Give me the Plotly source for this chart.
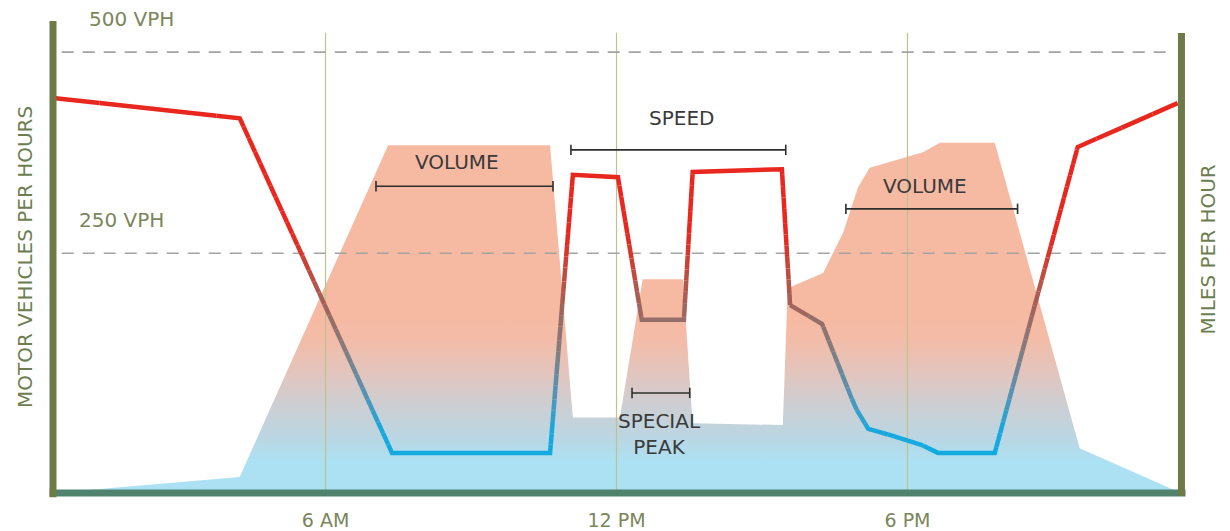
import math
import plotly.graph_objects as go
from plotly.colors import sample_colorscale

# ------------------------------------------------------------------
# Data (x in hours of the day, y on a relative 0-100 level scale)
# ------------------------------------------------------------------
X_RANGE = [0.38, 23.64]
TICK_VALS = [6, 12, 18]
TICK_TEXT = ["6 AM", "12 PM", "6 PM"]

VOLUME_HOURS = [0.38, 4.23, 7.29, 10.63, 11.10, 12.07, 12.54, 13.37, 13.57,
                15.43, 15.53, 16.26, 16.67, 16.98, 17.22, 18.32, 18.67, 19.80,
                21.55, 23.64]
VOLUME_LEVEL = [0.0, 3.4, 73.7, 73.7, 16.0, 16.0, 45.3, 45.3, 14.8,
                14.4, 43.4, 46.6, 55.1, 64.8, 68.9, 72.2, 74.2, 74.2,
                9.5, 0.0]

SPEED_HOURS = [0.38, 4.23, 7.37, 10.63, 11.10, 12.03, 12.52, 13.39, 13.57,
               15.41, 15.58, 16.24, 16.92, 17.19, 18.21, 18.63, 19.80, 21.51,
               23.57]
SPEED_LEVEL = [83.7, 79.4, 8.5, 8.5, 67.4, 66.9, 36.7, 36.7, 68.0,
               68.6, 39.8, 35.8, 18.2, 13.6, 10.6, 8.5, 8.5, 73.3,
               82.6]

REF_LABELS = ["500 VPH", "250 VPH"]
REF_LEVELS = [93.4, 50.8]

BRACKET_LABELS = ["VOLUME", "SPEED", "VOLUME", "SPECIAL<br>PEAK"]
BRACKET_START = [7.04, 11.06, 16.73, 12.32]
BRACKET_END = [10.69, 15.49, 20.27, 13.51]
BRACKET_LEVEL = [65.0, 72.7, 60.2, 21.2]

# ------------------------------------------------------------------
# Styles
# ------------------------------------------------------------------
FONT = "DejaVu Sans"
OLIVE = "#6E7A47"
TEAL = "#4F836E"
LABEL_OLIVE = "#7B865A"
TITLE_GREEN = "#6C7E50"
DARK = "#3A3A3A"
GRID = "#BFC28F"

VOLUME_COLORSCALE = [
    [0.0, "#ACE1F3"], [0.17, "#ACE1F3"], [0.28, "#B9D7E4"],
    [0.49, "#D0CDD0"], [0.65, "#E4C4BC"], [0.81, "#F3BCA8"],
    [0.92, "#F6BAA3"], [1.0, "#F6BAA3"],
]
SPEED_COLORSCALE = [
    [0.0, "#14AAE0"], [0.13, "#14AAE0"], [0.20, "#5096BA"],
    [0.30, "#827D80"], [0.37, "#986C66"], [0.45, "#B85246"],
    [0.55, "#E8271E"], [1.0, "#E8271E"],
]

fig = go.Figure()

# volume area with vertical gradient
fig.add_trace(go.Scatter(
    x=VOLUME_HOURS, y=VOLUME_LEVEL, mode="lines", line=dict(width=0),
    fill="tozeroy",
    fillgradient=dict(type="vertical", start=0, stop=40,
                      colorscale=VOLUME_COLORSCALE),
    hoverinfo="skip", showlegend=False))

# vertical grid lines at the ticks
for tv in TICK_VALS:
    fig.add_trace(go.Scatter(x=[tv, tv], y=[0, 97.5], mode="lines",
                             line=dict(color=GRID, width=1.2),
                             hoverinfo="skip", showlegend=False))

# dashed reference levels
for lvl in REF_LEVELS:
    fig.add_trace(go.Scatter(x=[0.56, 23.33], y=[lvl, lvl], mode="lines",
                             line=dict(color="#A3A3A3", width=1.6,
                                       dash="12px,9px"),
                             hoverinfo="skip", showlegend=False))

# speed line, coloured by its level (rendered as colour-binned runs)
N_BINS = 40
pts_x, pts_y = [SPEED_HOURS[0]], [SPEED_LEVEL[0]]
for i in range(len(SPEED_HOURS) - 1):
    x0, x1 = SPEED_HOURS[i], SPEED_HOURS[i + 1]
    y0, y1 = SPEED_LEVEL[i], SPEED_LEVEL[i + 1]
    n = max(1, int(math.ceil(abs(y1 - y0) / 0.6)))
    for k in range(1, n + 1):
        t = k / n
        pts_x.append(x0 + (x1 - x0) * t)
        pts_y.append(y0 + (y1 - y0) * t)


def bin_of(v):
    return min(N_BINS - 1, max(0, int(v / 100 * N_BINS)))


runs = {b: ([], []) for b in range(N_BINS)}
cur_bin = None
run_x, run_y = [], []
for j in range(len(pts_x) - 1):
    b = bin_of((pts_y[j] + pts_y[j + 1]) / 2)
    if b != cur_bin:
        if cur_bin is not None:
            rx, ry = runs[cur_bin]
            rx.extend(run_x + [None])
            ry.extend(run_y + [None])
        cur_bin = b
        run_x, run_y = [pts_x[j]], [pts_y[j]]
    run_x.append(pts_x[j + 1])
    run_y.append(pts_y[j + 1])
rx, ry = runs[cur_bin]
rx.extend(run_x)
ry.extend(run_y)

for b in range(N_BINS):
    rx, ry = runs[b]
    if not rx:
        continue
    col = sample_colorscale(SPEED_COLORSCALE, [(b + 0.5) / N_BINS])[0]
    fig.add_trace(go.Scatter(x=rx, y=ry, mode="lines",
                             line=dict(color=col, width=4.5),
                             connectgaps=False, hoverinfo="skip",
                             showlegend=False))

# brackets
TICK_H = 1.1
for x0, x1, lvl in zip(BRACKET_START, BRACKET_END, BRACKET_LEVEL):
    fig.add_trace(go.Scatter(
        x=[x0, x0, None, x0, x1, None, x1, x1],
        y=[lvl - TICK_H, lvl + TICK_H, None, lvl, lvl, None,
           lvl - TICK_H, lvl + TICK_H],
        mode="lines", line=dict(color="#2E2E2E", width=1.6),
        hoverinfo="skip", showlegend=False))

annotations = []
# bracket labels
label_pos = [(8.71, 70.1), (13.33, 79.4), (18.36, 65.0), (12.89, 12.5)]
for text, (lx, ly) in zip(BRACKET_LABELS, label_pos):
    annotations.append(dict(x=lx, y=ly, xref="x", yref="y", text=text,
                            showarrow=False, xanchor="center",
                            yanchor="middle",
                            font=dict(family=FONT, size=20, color=DARK)))

# reference-level labels
for text, lvl, px in zip(REF_LABELS, REF_LEVELS, [0.030, 0.021]):
    annotations.append(dict(x=px, y=lvl, xref="paper", yref="y", text=text,
                            showarrow=False, xanchor="left",
                            yanchor="middle", yshift=33,
                            font=dict(family=FONT, size=20,
                                      color=LABEL_OLIVE)))

# axis titles
annotations.append(dict(x=-0.0248, y=0.5, xref="paper", yref="paper",
                        text="MOTOR VEHICLES PER HOURS", textangle=-90,
                        showarrow=False, xanchor="center", yanchor="middle",
                        font=dict(family=FONT, size=20, color=TITLE_GREEN)))
annotations.append(dict(x=1.024, y=0.516, xref="paper", yref="paper",
                        text="MILES PER HOUR", textangle=-90,
                        showarrow=False, xanchor="center", yanchor="middle",
                        font=dict(family=FONT, size=20, color=TITLE_GREEN)))

shapes = [
    dict(type="line", xref="paper", yref="paper", x0=-0.003, x1=1.004,
         y0=0, y1=0, line=dict(color=TEAL, width=7), layer="above"),
    dict(type="line", xref="paper", yref="paper", x0=0, x1=0,
         y0=-0.009, y1=1.0, line=dict(color=OLIVE, width=7), layer="above"),
    dict(type="line", xref="paper", yref="paper", x0=1.0004, x1=1.0004,
         y0=-0.006, y1=0.9746, line=dict(color=OLIVE, width=7),
         layer="above"),
]

fig.update_layout(
    width=1230, height=531,
    margin=dict(l=45, r=57, t=13, b=46, pad=0),
    paper_bgcolor="white", plot_bgcolor="white",
    showlegend=False,
    xaxis=dict(range=X_RANGE, tickvals=TICK_VALS, ticktext=TICK_TEXT,
               showgrid=False, zeroline=False, showline=False,
               automargin=False,
               ticks="outside", ticklen=10, tickcolor="rgba(0,0,0,0)",
               tickfont=dict(family=FONT, size=19, color=LABEL_OLIVE)),
    yaxis=dict(range=[0, 100], visible=False, automargin=False),
    annotations=annotations,
    shapes=shapes,
)

fig.write_html("out.html")
